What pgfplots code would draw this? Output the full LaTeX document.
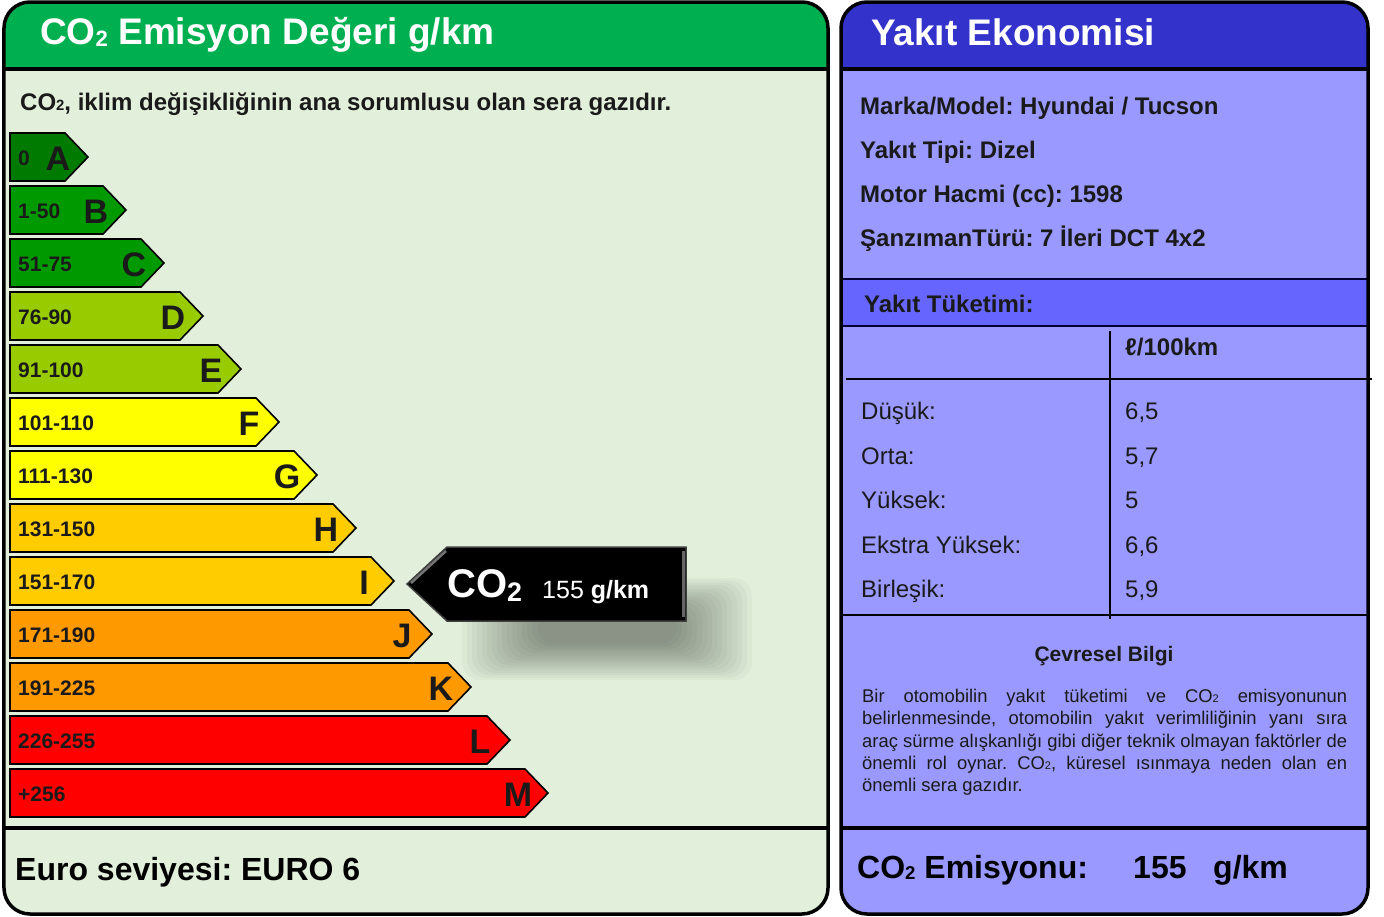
\documentclass[border=0pt]{standalone}
\usepackage{pgfplots}
\pgfplotsset{compat=1.18}
\usepackage{graphicx}
\usepackage{fontspec}
\setmainfont{Liberation Sans}
\definecolor{hdrgreen}{RGB}{0,176,80}
\definecolor{bodygreen}{RGB}{226,239,218}
\definecolor{hdrblue}{RGB}{51,51,204}
\definecolor{bodyblue}{RGB}{153,153,255}
\definecolor{bandblue}{RGB}{102,102,255}
\definecolor{cA}{RGB}{0,122,0}
\definecolor{cB}{RGB}{0,153,0}
\definecolor{cD}{RGB}{153,204,0}
\definecolor{cF}{RGB}{255,255,0}
\definecolor{cH}{RGB}{255,204,0}
\definecolor{cJ}{RGB}{255,153,0}
\definecolor{cL}{RGB}{255,0,0}
\definecolor{txt}{RGB}{26,26,26}
\frenchspacing
\newcommand\fs[2]{\fontsize{#1bp}{#2bp}\selectfont}
\newcommand\sub[2]{\raisebox{-#2em}{\scalebox{#1}{2}}}
\newcommand\rl[2]{\node[anchor=base west, inner sep=0, text=txt] at (axis cs:18,#1) {\fs{21}{25}\bfseries #2};}
\newcommand\lt[3]{\node[anchor=base, inner sep=0, text=txt] at (axis cs:#1,#2) {\fs{34}{40}\bfseries #3};}
\begin{document}
\begin{tikzpicture}
\begin{axis}[x=1bp, y=1bp, xmin=0, xmax=1384, ymin=0, ymax=917, y dir=reverse,
  hide axis, clip=false, no markers]
% ---------- left panel ----------
\fill[bodygreen, rounded corners=26bp] (axis cs:4,2) rectangle (axis cs:828,914);
\fill[hdrgreen, rounded corners=26bp] (axis cs:4,2) rectangle (axis cs:828,110);
\fill[bodygreen] (axis cs:4,69) rectangle (axis cs:828,112);
\draw[line width=4bp] (axis cs:4,69) -- (axis cs:828,69);
\draw[line width=4bp] (axis cs:4,828) -- (axis cs:828,828);
\draw[line width=3.5bp, rounded corners=26bp] (axis cs:4,2) rectangle (axis cs:828,914);
\node[anchor=base west, inner sep=0, text=white] at (axis cs:40,44) {\fs{37}{44}\bfseries CO\sub{0.6}{0.08} Emisyon Değeri g/km};
\node[anchor=base west, inner sep=0, text=txt] at (axis cs:20,110) {\fs{24}{28}\bfseries CO\sub{0.62}{0}, iklim değişikliğinin ana sorumlusu olan sera gazıdır.};
\node[anchor=base west, inner sep=0, text=black] at (axis cs:15,880) {\fs{32}{38}\bfseries Euro seviyesi: EURO 6};
% soft shadow of the indicator
\pgfplotsinvokeforeach{0,...,15}{
  \fill[black, opacity=0.027, rounded corners=18bp] (axis cs:{462+5*#1},{578+2.4*#1}) rectangle (axis cs:{752-5*#1},{680-2.4*#1});
}
% ---------- bands ----------
\addplot[fill=cA, draw=black, line width=1.6bp, line join=miter] coordinates {(10,133) (65,133) (88,157) (65,181) (10,181)} -- cycle;
\addplot[fill=cB, draw=black, line width=1.6bp, line join=miter] coordinates {(10,186) (103,186) (126,210) (103,234) (10,234)} -- cycle;
\addplot[fill=cB, draw=black, line width=1.6bp, line join=miter] coordinates {(10,239) (141,239) (164,263) (141,287) (10,287)} -- cycle;
\addplot[fill=cD, draw=black, line width=1.6bp, line join=miter] coordinates {(10,292) (180,292) (203,316) (180,340) (10,340)} -- cycle;
\addplot[fill=cD, draw=black, line width=1.6bp, line join=miter] coordinates {(10,345) (218,345) (241,369) (218,393) (10,393)} -- cycle;
\addplot[fill=cF, draw=black, line width=1.6bp, line join=miter] coordinates {(10,398) (256,398) (279,422) (256,446) (10,446)} -- cycle;
\addplot[fill=cF, draw=black, line width=1.6bp, line join=miter] coordinates {(10,451) (294,451) (317,475) (294,499) (10,499)} -- cycle;
\addplot[fill=cH, draw=black, line width=1.6bp, line join=miter] coordinates {(10,504) (333,504) (356,528) (333,552) (10,552)} -- cycle;
\addplot[fill=cH, draw=black, line width=1.6bp, line join=miter] coordinates {(10,557) (371,557) (394,581) (371,605) (10,605)} -- cycle;
\addplot[fill=cJ, draw=black, line width=1.6bp, line join=miter] coordinates {(10,610) (409,610) (432,634) (409,658) (10,658)} -- cycle;
\addplot[fill=cJ, draw=black, line width=1.6bp, line join=miter] coordinates {(10,663) (448,663) (471,687) (448,711) (10,711)} -- cycle;
\addplot[fill=cL, draw=black, line width=1.6bp, line join=miter] coordinates {(10,716) (487,716) (510,740) (487,764) (10,764)} -- cycle;
\addplot[fill=cL, draw=black, line width=1.6bp, line join=miter] coordinates {(10,769) (525,769) (548,793) (525,817) (10,817)} -- cycle;
\rl{165}{0}\rl{218}{1-50}\rl{271}{51-75}\rl{324}{76-90}\rl{377}{91-100}\rl{430}{101-110}
\rl{483}{111-130}\rl{536}{131-150}\rl{589}{151-170}\rl{642}{171-190}\rl{695}{191-225}
\rl{748}{226-255}\rl{801}{+256}
\lt{58}{170}{A}\lt{96}{223}{B}\lt{134}{276}{C}\lt{173}{329}{D}\lt{211}{382}{E}
\lt{249}{435}{F}\lt{287}{488}{G}\lt{326}{541}{H}\lt{364}{594}{I}\lt{402}{647}{J}
\lt{441}{700}{K}\lt{480}{753}{L}\lt{518}{806}{M}
% ---------- indicator (155 g/km) ----------
\addplot[fill=black, draw=black!75, line width=1.5bp, line join=miter] coordinates {(407,584) (447,547) (686,547) (686,621) (447,621)} -- cycle;
\draw[line width=2.5bp, black!55] (axis cs:411,583) -- (axis cs:446,551);
\draw[line width=3bp, black!60] (axis cs:683,551) -- (axis cs:683,617);
\node[anchor=base west, inner sep=0, text=white] at (axis cs:447,597) {\fs{40}{48}\bfseries CO\sub{0.67}{0.12}};
\node[anchor=base west, inner sep=0, text=white] at (axis cs:542,598) {\fs{25}{30}155 \bfseries g/km};
% ---------- right panel ----------
\fill[bodyblue, rounded corners=26bp] (axis cs:841,2) rectangle (axis cs:1368,914);
\fill[hdrblue, rounded corners=26bp] (axis cs:841,2) rectangle (axis cs:1368,110);
\fill[bodyblue] (axis cs:841,69) rectangle (axis cs:1368,112);
\fill[bandblue] (axis cs:841,279) rectangle (axis cs:1368,326);
\draw[line width=1.5bp, color=black!80!blue] (axis cs:841,279) -- (axis cs:1368,279);
\draw[line width=1.5bp, color=black!80!blue] (axis cs:841,326) -- (axis cs:1368,326);
\draw[line width=2bp] (axis cs:1110,331) -- (axis cs:1110,619);
\draw[line width=2.5bp] (axis cs:846,379) -- (axis cs:1372,379);
\draw[line width=2.5bp] (axis cs:841,615) -- (axis cs:1368,615);
\draw[line width=4bp] (axis cs:841,69) -- (axis cs:1368,69);
\draw[line width=4bp] (axis cs:841,828) -- (axis cs:1368,828);
\draw[line width=3.5bp, rounded corners=26bp] (axis cs:841,2) rectangle (axis cs:1368,914);
\node[anchor=base west, inner sep=0, text=white] at (axis cs:871,45) {\fs{37}{44}\bfseries Yakıt Ekonomisi};
\node[anchor=base west, inner sep=0, text=txt] at (axis cs:860,114) {\fs{24}{28}\bfseries Marka/Model: Hyundai / Tucson};
\node[anchor=base west, inner sep=0, text=txt] at (axis cs:860,158) {\fs{24}{28}\bfseries Yakıt Tipi: Dizel};
\node[anchor=base west, inner sep=0, text=txt] at (axis cs:860,202) {\fs{24}{28}\bfseries Motor Hacmi (cc): 1598};
\node[anchor=base west, inner sep=0, text=txt] at (axis cs:860,246) {\fs{24}{28}\bfseries ŞanzımanTürü: 7 İleri DCT 4x2};
\node[anchor=base west, inner sep=0, text=txt] at (axis cs:864,312) {\fs{24}{28}\bfseries Yakıt Tüketimi:};
\node[anchor=base west, inner sep=0, text=txt] at (axis cs:1125,355) {\fs{24}{28}\bfseries ℓ/100km};
\node[anchor=base west, inner sep=0, text=txt] at (axis cs:861,419) {\fs{24}{28}Düşük:};
\node[anchor=base west, inner sep=0, text=txt] at (axis cs:861,464) {\fs{24}{28}Orta:};
\node[anchor=base west, inner sep=0, text=txt] at (axis cs:861,508) {\fs{24}{28}Yüksek:};
\node[anchor=base west, inner sep=0, text=txt] at (axis cs:861,553) {\fs{24}{28}Ekstra Yüksek:};
\node[anchor=base west, inner sep=0, text=txt] at (axis cs:861,597) {\fs{24}{28}Birleşik:};
\node[anchor=base west, inner sep=0, text=txt] at (axis cs:1125,419) {\fs{24}{28}6,5};
\node[anchor=base west, inner sep=0, text=txt] at (axis cs:1125,464) {\fs{24}{28}5,7};
\node[anchor=base west, inner sep=0, text=txt] at (axis cs:1125,508) {\fs{24}{28}5};
\node[anchor=base west, inner sep=0, text=txt] at (axis cs:1125,553) {\fs{24}{28}6,6};
\node[anchor=base west, inner sep=0, text=txt] at (axis cs:1125,597) {\fs{24}{28}5,9};
\node[anchor=base, inner sep=0, text=txt] at (axis cs:1104,661) {\fs{21}{25}\bfseries Çevresel Bilgi};
\node[anchor=north west, inner sep=0, text width=485bp, align=justify, text=txt] at (axis cs:862,689)
 {\fs{18.4}{22.3}\hyphenpenalty=10000 Bir otomobilin yakıt tüketimi ve CO\sub{0.6}{0} emisyonunun\linebreak
 belirlenmesinde, otomobilin yakıt verimliliğinin yanı sıra\linebreak
 araç sürme alışkanlığı gibi diğer teknik olmayan faktörler de\linebreak
 önemli rol oynar. CO\sub{0.6}{0}, küresel ısınmaya neden olan en\linebreak
 önemli sera gazıdır.\par};
\node[anchor=base west, inner sep=0, text=black] at (axis cs:857,878) {\fs{32}{38}\bfseries CO\sub{0.58}{0.04} Emisyonu:};
\node[anchor=base west, inner sep=0, text=black] at (axis cs:1133,878) {\fs{32}{38}\bfseries 155};
\node[anchor=base west, inner sep=0, text=black] at (axis cs:1213,878) {\fs{32}{38}\bfseries g/km};
\end{axis}
\pgfresetboundingbox
\path (current axis.south west) rectangle (current axis.north east);
\end{tikzpicture}
\end{document}
